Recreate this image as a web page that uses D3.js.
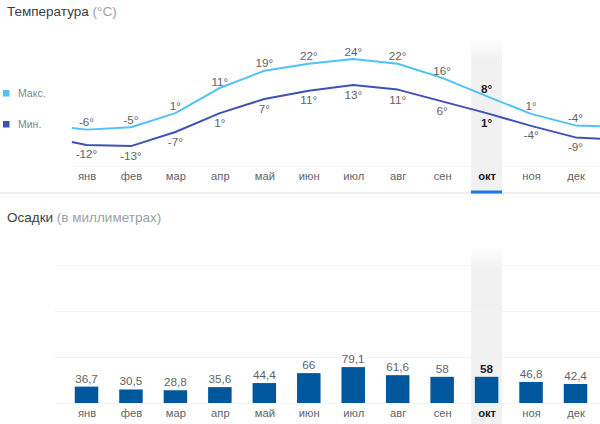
<![CDATA[<!DOCTYPE html>
<html><head><meta charset="utf-8">
<script src="https://cdn.jsdelivr.net/npm/d3@7/dist/d3.min.js"></script>
<style>html,body{margin:0;padding:0;background:#fff}svg{display:block}text{font-family:"Liberation Sans",Arial,sans-serif}</style>
<script>
const months = ["янв","фев","мар","апр","май","июн","июл","авг","сен","окт","ноя","дек"];
const maxLabels = [-6,-5,1,11,19,22,24,22,16,8,1,-4];
const minLabels = [-12,-13,-7,1,7,11,13,11,6,1,-4,-9];
const maxTemps = [-6,-5,1,11.7,19,22,24,22,16,8.2,0.7,-4.2];
const minTemps = [-12.5,-13,-7,1,7,10.5,13,11,6,1,-4.4,-9.3];
const maxEdges = [-5.3,-5.1];
const minEdges = [-11.3,-10.9];
const edgeIndex = [-0.33,12.5];
const rain = [36.7,30.5,28.8,35.6,44.4,66,79.1,61.6,58,58,46.8,42.4];
const rainGrid = [0,100,200,300];
const current = 9;
const fmtRain = d => String(d).replace(".", ",");

document.addEventListener("DOMContentLoaded", () => {
const svg = d3.select("#c");
const x = d3.scaleLinear([0,11],[86.5,575.5]);
const yT = d3.scaleLinear([0,24],[115.5,59]);
const yR = d3.scaleLinear([0,300],[403.5,265.5]);
const colMax="#4fc3f7", colMin="#3f51b5", colBar="#01579b", txt="#5f6368", dark="#202124";

const defs = svg.append("defs");
["g1","g2"].forEach(id=>{
  const g = defs.append("linearGradient").attr("id",id).attr("x1",0).attr("x2",0).attr("y1",0).attr("y2",1);
  g.append("stop").attr("offset",0).attr("stop-color","#f1f1f1").attr("stop-opacity",0);
  g.append("stop").attr("offset",0.14).attr("stop-color","#f1f1f1").attr("stop-opacity",1);
  g.append("stop").attr("offset",1).attr("stop-color","#f1f1f1");
});
const cx = x(current), hw = 15.5;
svg.append("rect").attr("x",cx-hw).attr("y",38).attr("width",hw*2).attr("height",155).attr("fill","url(#g1)");
svg.append("rect").attr("x",cx-hw).attr("y",244).attr("width",hw*2).attr("height",180).attr("fill","url(#g2)");

const title=(y,a,b)=>{const t=svg.append("text").attr("x",7).attr("y",y).attr("font-size",13.5);
  t.append("tspan").attr("fill","#3c4043").text(a);
  t.append("tspan").attr("fill","#9aa0a6").text(" "+b);};
title(16,"Температура","(°C)");
title(222,"Осадки","(в миллиметрах)");

[["Макс.",colMax,93],["Мин.",colMin,124]].forEach(([l,c,y])=>{
  svg.append("rect").attr("x",3).attr("y",y-3).attr("width",6.5).attr("height",6.5).attr("fill",c);
  svg.append("text").attr("x",18).attr("y",y+4).attr("font-size",10.5).attr("fill","#80868b").text(l);
});

function monthAxis(y, lineX0, lineY){
  svg.append("line").attr("x1",lineX0).attr("x2",600).attr("y1",lineY).attr("y2",lineY).attr("stroke","#f3f3f3");
  const g = svg.append("g").attr("transform",`translate(0,${y})`)
    .call(d3.axisBottom(x).tickValues(d3.range(12)).tickFormat(i=>months[i]).tickSize(0).tickPadding(0));
  g.select(".domain").remove();
  g.selectAll("text").attr("font-size",11.2).attr("font-family",'"Liberation Sans",Arial,sans-serif')
    .attr("font-weight",d=>d===current?"bold":null).style("fill",d=>d===current?dark:txt);
}
monthAxis(172.5,72,166.5);
svg.append("line").attr("x1",0).attr("x2",600).attr("y1",193).attr("y2",193).attr("stroke","#dadce0");
svg.append("rect").attr("x",cx-hw).attr("y",190.5).attr("width",hw*2).attr("height",3).attr("fill","#1a73e8");

const line = d3.line().x(d=>x(d[0])).y(d=>yT(d[1]));
const seq = (vals,e)=>[[edgeIndex[0],e[0]],...vals.map((v,i)=>[i,v]),[edgeIndex[1],e[1]]];
svg.append("path").attr("d",line(seq(maxTemps,maxEdges))).attr("fill","none").attr("stroke",colMax).attr("stroke-width",2).attr("stroke-linejoin","round");
svg.append("path").attr("d",line(seq(minTemps,minEdges))).attr("fill","none").attr("stroke",colMin).attr("stroke-width",2).attr("stroke-linejoin","round");
const tempLabels=(labels,dy)=>svg.append("g").selectAll("text").data(labels).join("text")
  .attr("x",(d,i)=>x(i)).attr("y",d=>yT(d)+dy).attr("text-anchor","middle").attr("font-size",11.7)
  .attr("fill",(d,i)=>i===current?dark:txt).attr("font-weight",(d,i)=>i===current?"bold":null).text(d=>d+"°");
tempLabels(maxLabels,-3.3);
tempLabels(minLabels,14);

svg.append("g").selectAll("line").data(rainGrid).join("line")
  .attr("x1",55).attr("x2",600).attr("y1",d=>yR(d)).attr("y2",d=>yR(d)).attr("stroke","#f3f3f3");
svg.append("g").selectAll("rect").data(rain).join("rect")
  .attr("x",(d,i)=>x(i)-11.75).attr("width",23.5).attr("y",d=>yR(d)).attr("height",d=>yR(0)-yR(d)).attr("fill",colBar);
svg.append("g").selectAll("text").data(rain).join("text")
  .attr("x",(d,i)=>x(i)).attr("y",d=>yR(d)-4).attr("text-anchor","middle").attr("font-size",11.7)
  .attr("fill",(d,i)=>i===current?dark:txt).attr("font-weight",(d,i)=>i===current?"bold":null).text(fmtRain);
monthAxis(409.5,55,403.5);
});
</script>
</head><body><svg id="c" width="600" height="424"></svg></body></html>]]>
